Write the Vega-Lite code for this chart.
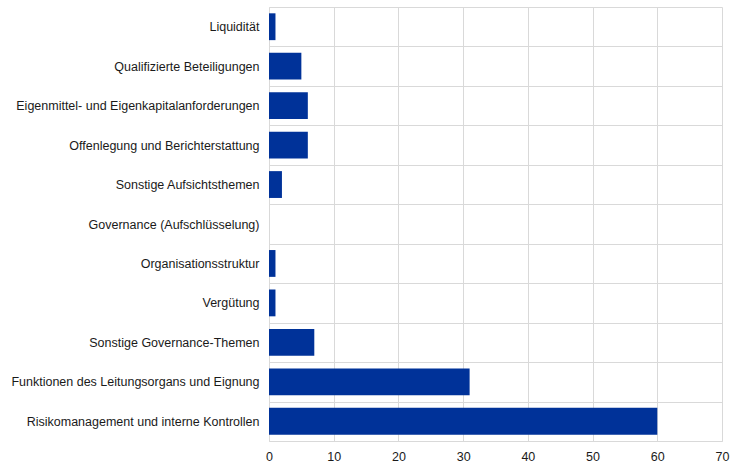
{
  "$schema": "https://vega.github.io/schema/vega-lite/v6.json",
  "autosize": "none",
  "width": 453,
  "height": 434,
  "padding": {"left": 269, "top": 7, "right": 22, "bottom": 27},
  "background": "white",
  "config": {
    "view": {"stroke": null},
    "font": "Liberation Sans",
    "axis": {"labelFont": "Liberation Sans", "labelFontSize": 12.5, "labelColor": "#1a1a1a", "gridColor": "#d9d9d9", "domainColor": "#d9d9d9", "gridWidth": 1}
  },
  "data": {
    "values": [
      {"category": "Liquidität ", "value": 1},
      {"category": "Qualifizierte Beteiligungen", "value": 5},
      {"category": "Eigenmittel- und Eigenkapitalanforderungen", "value": 6},
      {"category": "Offenlegung und Berichterstattung", "value": 6},
      {"category": "Sonstige Aufsichtsthemen", "value": 2},
      {"category": "Governance (Aufschlüsselung)", "value": 0},
      {"category": "Organisationsstruktur", "value": 1},
      {"category": "Vergütung ", "value": 1},
      {"category": "Sonstige Governance-Themen", "value": 7},
      {"category": "Funktionen des Leitungsorgans und Eignung", "value": 31},
      {"category": "Risikomanagement und interne Kontrollen", "value": 60}
    ]
  },
  "mark": {"type": "bar", "color": "#003299", "height": {"band": 0.68}},
  "encoding": {
    "y": {
      "field": "category",
      "type": "nominal",
      "sort": null,
      "scale": {"paddingInner": 0, "paddingOuter": 0},
      "axis": {"title": null, "ticks": false, "grid": true, "tickBand": "extent", "labelPadding": 10, "domain": true, "labelLimit": 300}
    },
    "x": {
      "field": "value",
      "type": "quantitative",
      "scale": {"domain": [0, 70], "nice": false},
      "axis": {"title": null, "values": [0, 10, 20, 30, 40, 50, 60, 70], "ticks": false, "grid": true, "labelPadding": 9, "domain": true, "labelFlush": false}
    }
  }
}
